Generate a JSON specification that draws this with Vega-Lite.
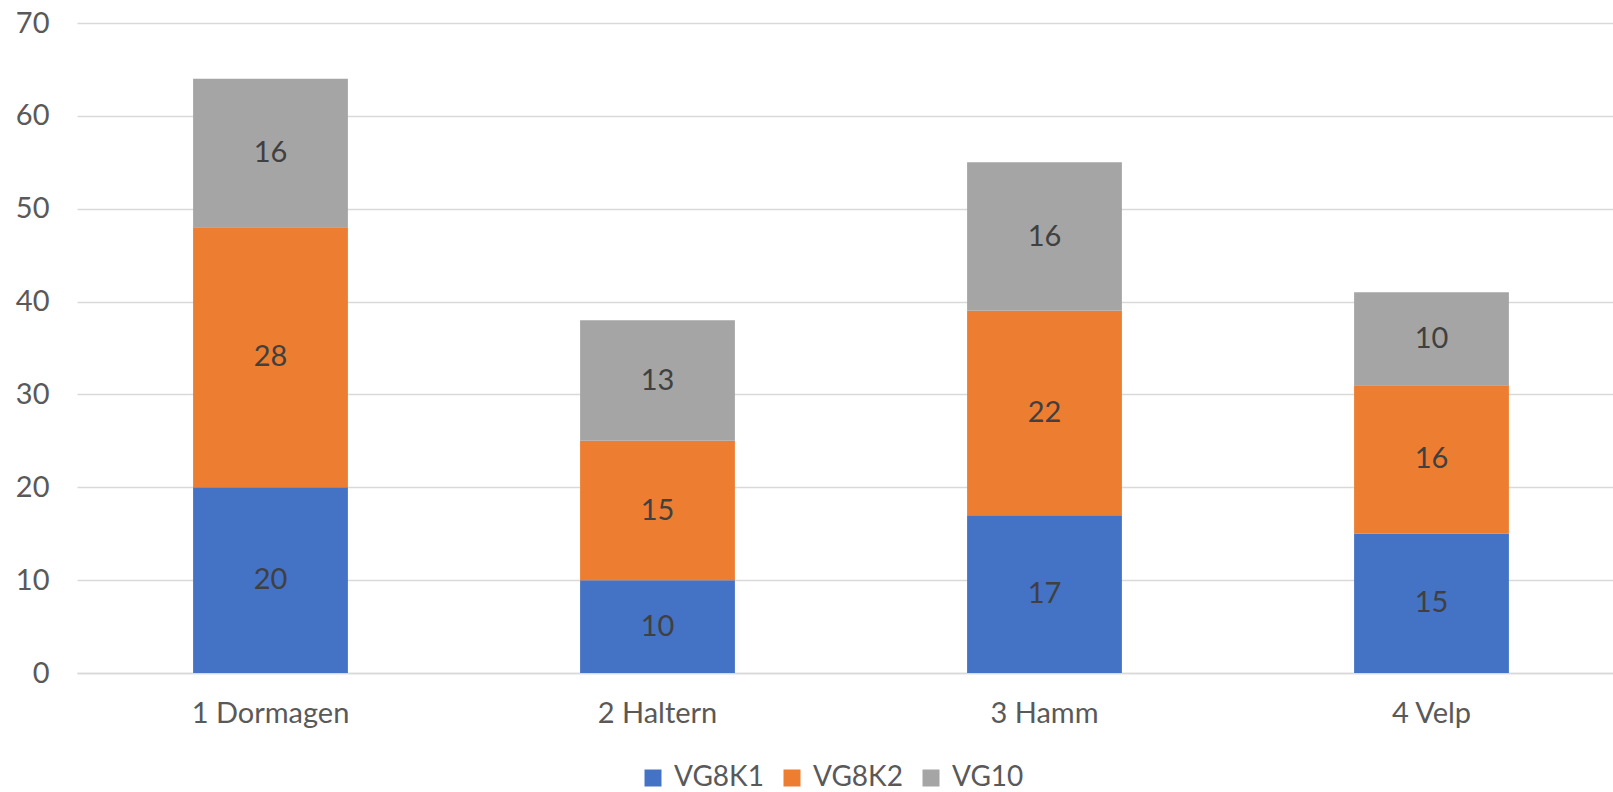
{
  "$schema": "https://vega.github.io/schema/vega-lite/v6.json",
  "autosize": "none",
  "width": 1536,
  "height": 650,
  "padding": {"left": 77, "top": 23, "right": 0, "bottom": 119},
  "config": {
    "font": "Lato",
    "view": {"stroke": null},
    "axis": {"labelFont": "Lato", "labelColor": "#595959", "labelFontSize": 29}
  },
  "data": {
    "values": [
      {"city": "1 Dormagen", "series": "VG8K1", "order": 1, "value": 20},
      {"city": "1 Dormagen", "series": "VG8K2", "order": 2, "value": 28},
      {"city": "1 Dormagen", "series": "VG10", "order": 3, "value": 16},
      {"city": "2 Haltern", "series": "VG8K1", "order": 1, "value": 10},
      {"city": "2 Haltern", "series": "VG8K2", "order": 2, "value": 15},
      {"city": "2 Haltern", "series": "VG10", "order": 3, "value": 13},
      {"city": "3 Hamm", "series": "VG8K1", "order": 1, "value": 17},
      {"city": "3 Hamm", "series": "VG8K2", "order": 2, "value": 22},
      {"city": "3 Hamm", "series": "VG10", "order": 3, "value": 16},
      {"city": "4 Velp", "series": "VG8K1", "order": 1, "value": 15},
      {"city": "4 Velp", "series": "VG8K2", "order": 2, "value": 16},
      {"city": "4 Velp", "series": "VG10", "order": 3, "value": 10}
    ]
  },
  "encoding": {
    "x": {
      "field": "city", "type": "nominal",
      "scale": {"paddingInner": 0.6, "paddingOuter": 0.3, "range": [0, 1548]},
      "axis": {"title": null, "labelAngle": 0, "ticks": false, "domainColor": "#d9d9d9", "domainWidth": 1.3, "labelPadding": 26}
    }
  },
  "layer": [
    {
      "mark": {"type": "bar"},
      "encoding": {
        "y": {
          "field": "value", "type": "quantitative", "stack": "zero",
          "scale": {"domain": [0, 70], "nice": false},
          "axis": {"title": null, "values": [0, 10, 20, 30, 40, 50, 60, 70], "domain": false, "ticks": false, "gridColor": "#d9d9d9", "gridWidth": 1.3, "labelPadding": 28}
        },
        "color": {
          "field": "series", "type": "nominal",
          "scale": {"domain": ["VG8K1", "VG8K2", "VG10"], "range": ["#4472c4", "#ed7d31", "#a5a5a5"]},
          "legend": {
            "title": null, "orient": "none", "direction": "horizontal",
            "legendX": 562, "legendY": 741,
            "symbolType": "square", "symbolSize": 289, "symbolStrokeWidth": 0,
            "labelFontSize": 28, "labelColor": "#595959", "labelFont": "Lato",
            "labelOffset": 7, "columnPadding": 14
          }
        },
        "order": {"field": "order", "type": "quantitative"}
      }
    },
    {
      "transform": [
        {"stack": "value", "groupby": ["city"], "sort": [{"field": "order"}], "as": ["y0", "y1"]},
        {"fold": ["y0", "y1"], "as": ["k", "pos"]},
        {"aggregate": [{"op": "mean", "field": "pos", "as": "mid"}], "groupby": ["city", "series", "value"]}
      ],
      "mark": {"type": "text", "fontSize": 29, "color": "#404040", "font": "Lato", "baseline": "middle"},
      "encoding": {
        "y": {"field": "mid", "type": "quantitative"},
        "text": {"field": "value", "type": "quantitative"}
      }
    }
  ]
}
